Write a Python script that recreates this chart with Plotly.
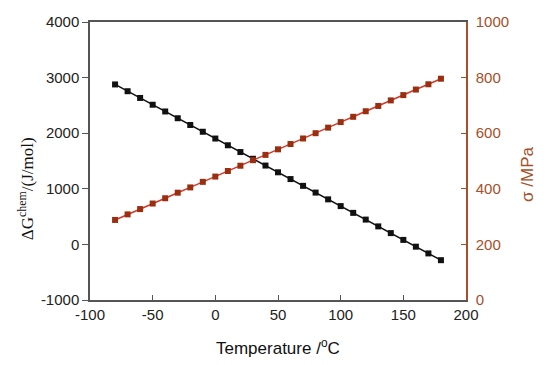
import plotly.graph_objects as go

temperature = [-80, -70, -60, -50, -40, -30, -20, -10, 0, 10, 20, 30, 40, 50,
               60, 70, 80, 90, 100, 110, 120, 130, 140, 150, 160, 170, 180]
delta_g_chem = [2877, 2755, 2634, 2512, 2391, 2269, 2148, 2026, 1904, 1783, 1661,
                1540, 1418, 1297, 1175, 1053, 932, 810, 689, 567, 446, 324, 203,
                81, -41, -162, -284]
sigma_mpa = [288, 308, 327, 347, 366, 386, 405, 425, 444, 464, 483, 503, 522, 542,
             561, 581, 600, 620, 640, 659, 679, 698, 718, 737, 757, 776, 796]

x_ticks = [-100, -50, 0, 50, 100, 150, 200]
left_ticks = [-1000, 0, 1000, 2000, 3000, 4000]
right_ticks = [0, 200, 400, 600, 800, 1000]

brown = "#A5502A"
axis_gray = "#555555"
tick_font = dict(family="Liberation Sans, Arial, sans-serif", size=15, color="#222222")

fig = go.Figure()
fig.add_trace(go.Scatter(
    x=temperature, y=delta_g_chem, mode="lines+markers",
    line=dict(color="#111111", width=1.5),
    marker=dict(symbol="square", size=6, color="#111111"),
    showlegend=False, yaxis="y"))
fig.add_trace(go.Scatter(
    x=temperature, y=sigma_mpa, mode="lines+markers",
    line=dict(color="#D0392B", width=1.5),
    marker=dict(symbol="square", size=6, color="#9A2E0E"),
    showlegend=False, yaxis="y2"))

fig.update_layout(
    width=550, height=365,
    margin=dict(l=90, r=84, t=22, b=65),
    paper_bgcolor="white", plot_bgcolor="white",
    xaxis=dict(range=[-100, 200], tickvals=x_ticks, ticktext=[str(v) for v in x_ticks],
               ticks="inside", ticklen=5, tickcolor=axis_gray,
               showline=True, linecolor=axis_gray, linewidth=1.5, mirror=True,
               showgrid=False, zeroline=False, tickfont=tick_font),
    yaxis=dict(range=[-1000, 4000], tickvals=left_ticks, ticktext=[str(v) for v in left_ticks],
               ticks="outside", ticklen=6, tickcolor=axis_gray,
               showline=True, linecolor=axis_gray, linewidth=1.5,
               showgrid=False, zeroline=False, tickfont=tick_font),
    yaxis2=dict(range=[0, 1000], tickvals=right_ticks, ticktext=[str(v) for v in right_ticks],
                overlaying="y", side="right", anchor="x",
                ticks="inside", ticklen=5, tickcolor=brown,
                showline=True, linecolor=brown, linewidth=1.5,
                showgrid=False, zeroline=False, ticklabelstandoff=5,
                tickfont=dict(family="Liberation Sans, Arial, sans-serif", size=15, color=brown)),
    annotations=[
        dict(text="Temperature /<sup>o</sup>C", xref="paper", yref="paper",
             x=0.5, y=-0.17, xanchor="center", yanchor="middle", showarrow=False,
             font=dict(family="Liberation Sans, Arial, sans-serif", size=17, color="#111111")),
        dict(text="ΔG<sup>chem</sup>/(J/mol)", xref="paper", yref="paper",
             x=-0.172, y=0.40, xanchor="center", yanchor="middle", showarrow=False,
             textangle=-90,
             font=dict(family="Liberation Serif, Times New Roman, serif", size=17, color="#111111")),
        dict(text="σ /MPa", xref="paper", yref="paper",
             x=1.165, y=0.45, xanchor="center", yanchor="middle", showarrow=False,
             textangle=-90,
             font=dict(family="Liberation Sans, Arial, sans-serif", size=17, color=brown)),
    ],
)

fig.write_html("out.html", config={"displayModeBar": False},
               post_script="document.body.style.margin='0';document.body.style.overflow='hidden';")
